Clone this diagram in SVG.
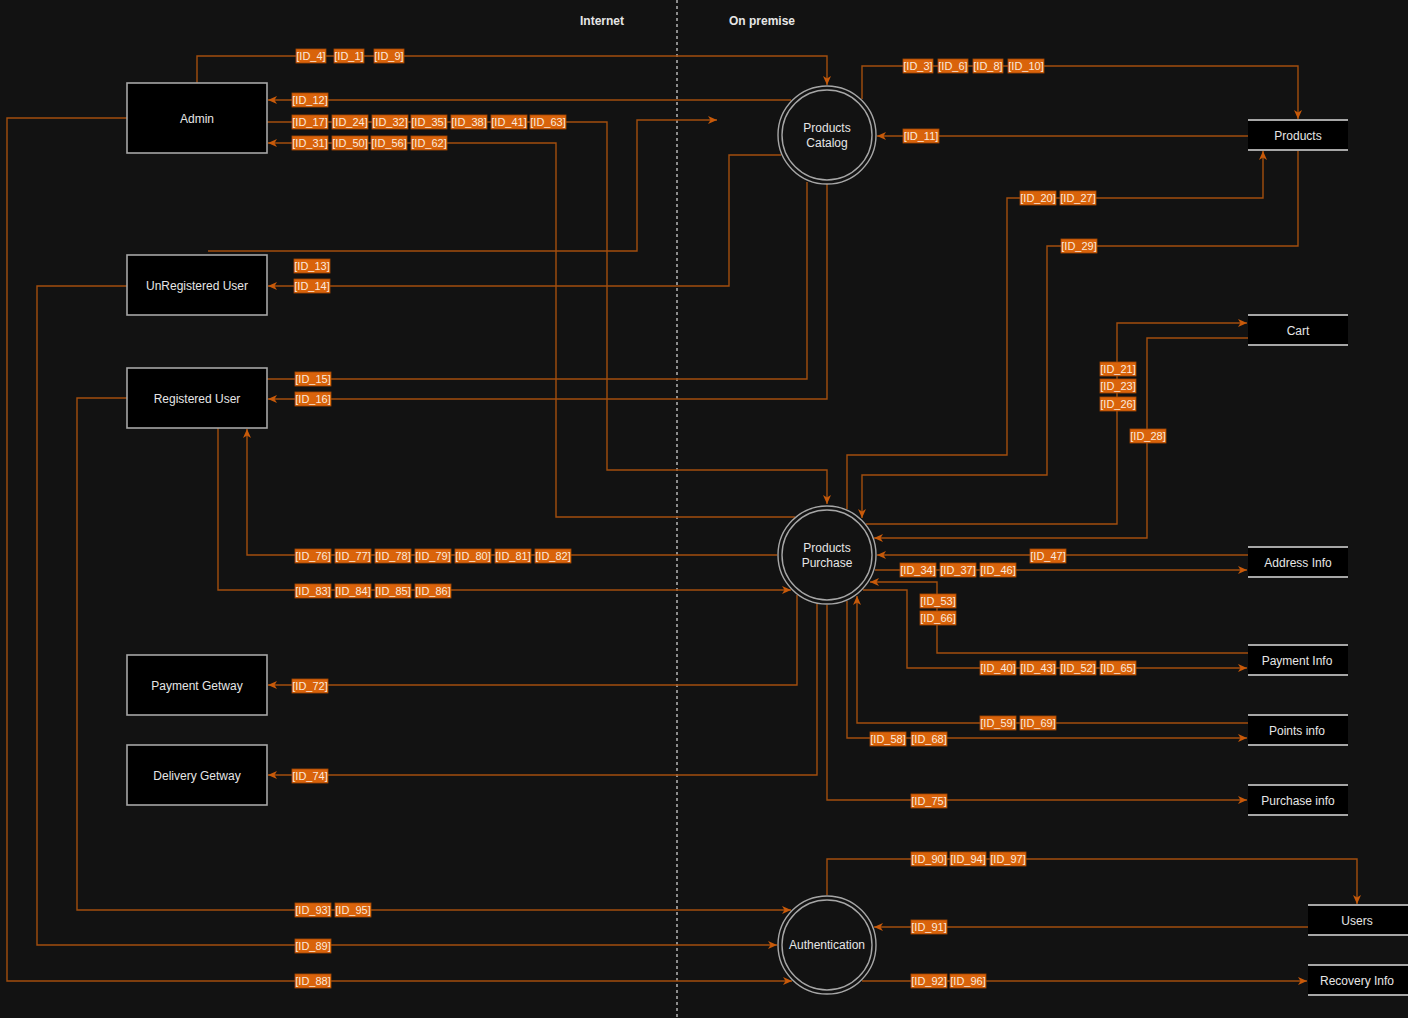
<svg xmlns="http://www.w3.org/2000/svg" width="1408" height="1018" viewBox="0 0 1408 1018">
<style>
.bg{fill:#121212}
.hdr{font-family:"Liberation Sans",Arial,sans-serif;font-size:12px;font-weight:bold;fill:#e6e6e6;text-anchor:middle}
.box{fill:#000;stroke:#a6a6a6;stroke-width:1.6}
.ring{fill:none;stroke:#a6a6a6;stroke-width:1.4}
.ds{fill:#000}
.dsl{stroke:#a6a6a6;stroke-width:2}
.nt{font-family:"Liberation Sans",Arial,sans-serif;font-size:12px;fill:#e6e6e6;text-anchor:middle}
.c{fill:none;stroke:#a24e0e;stroke-width:1.4}
.a{marker-end:url(#arr)}
.lr{fill:#d9630b;stroke:#a84a06;stroke-width:0.8}
.lt{font-family:"Liberation Sans",Arial,sans-serif;font-size:11px;fill:#fbe9dc;text-anchor:middle}
</style>
<defs>
<marker id="arr" markerUnits="userSpaceOnUse" markerWidth="10" markerHeight="10" refX="9" refY="4" orient="auto">
<path d="M0,0 L9,4 L0,8 L2.5,4 Z" fill="#c85a0a"/>
</marker>
</defs>
<rect class="bg" x="0" y="0" width="1408" height="1018"/>
<line x1="677" y1="0" x2="677" y2="1018" stroke="#b4b4b4" stroke-width="1.5" stroke-dasharray="3 3"/>
<text class="hdr" x="602" y="25">Internet</text>
<text class="hdr" x="762" y="25">On premise</text>

<g id="connectors">
<path class="c a" d="M197,83 V56 H827 V85"/>
<path class="c a" d="M791,100 H268"/>
<path class="c a" d="M267,122 H607 V470 H827 V504"/>
<path class="c a" d="M795,517 H556 V143 H268"/>
<path class="c a" d="M208,251 H637 V120 H717"/>
<path class="c a" d="M781,155 H729 V286 H268"/>
<path class="c" d="M267,379 H807 V182"/>
<path class="c a" d="M827,184 V399 H268"/>
<path class="c a" d="M862,99 V66 H1298 V119"/>
<path class="c a" d="M1248,136 H877"/>
<path class="c a" d="M847,509 V455 H1007 V198 H1263 V151"/>
<path class="c a" d="M1298,150 V246 H1047 V475 H862 V518"/>
<path class="c a" d="M866,524 H1117 V323 H1247"/>
<path class="c a" d="M1248,338 H1147 V538 H874"/>
<path class="c a" d="M1248,555 H877"/>
<path class="c a" d="M875,570 H1247"/>
<path class="c a" d="M1248,653 H937 V582 H870"/>
<path class="c a" d="M863,590 H907 V668 H1247"/>
<path class="c a" d="M1248,723 H857 V596"/>
<path class="c a" d="M847,601 V738 H1247"/>
<path class="c a" d="M827,605 V800 H1247"/>
<path class="c a" d="M817,604 V775 H268"/>
<path class="c a" d="M797,595 V685 H268"/>
<path class="c a" d="M777,555 H247 V429"/>
<path class="c a" d="M218,428 V590 H791"/>
<path class="c a" d="M127,398 H77 V910 H791"/>
<path class="c a" d="M127,286 H37 V945 H777"/>
<path class="c a" d="M127,118 H7 V981 H792"/>
<path class="c a" d="M827,895 V859 H1357 V904"/>
<path class="c a" d="M1308,927 H874"/>
<path class="c a" d="M862,981 H1307"/>

<g id="labels">
<rect class="lr" x="296" y="49" width="30" height="14"/><text class="lt" x="311" y="60">[ID_4]</text>
<rect class="lr" x="334" y="49" width="30" height="14"/><text class="lt" x="349" y="60">[ID_1]</text>
<rect class="lr" x="374" y="49" width="30" height="14"/><text class="lt" x="389" y="60">[ID_9]</text>
<rect class="lr" x="292" y="93" width="36" height="14"/><text class="lt" x="310" y="104">[ID_12]</text>
<rect class="lr" x="292" y="115" width="36" height="14"/><text class="lt" x="310" y="126">[ID_17]</text>
<rect class="lr" x="332" y="115" width="36" height="14"/><text class="lt" x="350" y="126">[ID_24]</text>
<rect class="lr" x="372" y="115" width="36" height="14"/><text class="lt" x="390" y="126">[ID_32]</text>
<rect class="lr" x="411" y="115" width="36" height="14"/><text class="lt" x="429" y="126">[ID_35]</text>
<rect class="lr" x="451" y="115" width="36" height="14"/><text class="lt" x="469" y="126">[ID_38]</text>
<rect class="lr" x="491" y="115" width="36" height="14"/><text class="lt" x="509" y="126">[ID_41]</text>
<rect class="lr" x="530" y="115" width="36" height="14"/><text class="lt" x="548" y="126">[ID_63]</text>
<rect class="lr" x="292" y="136" width="36" height="14"/><text class="lt" x="310" y="147">[ID_31]</text>
<rect class="lr" x="332" y="136" width="36" height="14"/><text class="lt" x="350" y="147">[ID_50]</text>
<rect class="lr" x="371" y="136" width="36" height="14"/><text class="lt" x="389" y="147">[ID_56]</text>
<rect class="lr" x="411" y="136" width="36" height="14"/><text class="lt" x="429" y="147">[ID_62]</text>
<rect class="lr" x="294" y="259" width="36" height="14"/><text class="lt" x="312" y="270">[ID_13]</text>
<rect class="lr" x="294" y="279" width="36" height="14"/><text class="lt" x="312" y="290">[ID_14]</text>
<rect class="lr" x="295" y="372" width="36" height="14"/><text class="lt" x="313" y="383">[ID_15]</text>
<rect class="lr" x="295" y="392" width="36" height="14"/><text class="lt" x="313" y="403">[ID_16]</text>
<rect class="lr" x="903" y="59" width="30" height="14"/><text class="lt" x="918" y="70">[ID_3]</text>
<rect class="lr" x="938" y="59" width="30" height="14"/><text class="lt" x="953" y="70">[ID_6]</text>
<rect class="lr" x="973" y="59" width="30" height="14"/><text class="lt" x="988" y="70">[ID_8]</text>
<rect class="lr" x="1008" y="59" width="36" height="14"/><text class="lt" x="1026" y="70">[ID_10]</text>
<rect class="lr" x="903" y="129" width="36" height="14"/><text class="lt" x="921" y="140">[ID_11]</text>
<rect class="lr" x="1020" y="191" width="36" height="14"/><text class="lt" x="1038" y="202">[ID_20]</text>
<rect class="lr" x="1060" y="191" width="36" height="14"/><text class="lt" x="1078" y="202">[ID_27]</text>
<rect class="lr" x="1061" y="239" width="36" height="14"/><text class="lt" x="1079" y="250">[ID_29]</text>
<rect class="lr" x="1100" y="362" width="36" height="14"/><text class="lt" x="1118" y="373">[ID_21]</text>
<rect class="lr" x="1100" y="379" width="36" height="14"/><text class="lt" x="1118" y="390">[ID_23]</text>
<rect class="lr" x="1100" y="397" width="36" height="14"/><text class="lt" x="1118" y="408">[ID_26]</text>
<rect class="lr" x="1130" y="429" width="36" height="14"/><text class="lt" x="1148" y="440">[ID_28]</text>
<rect class="lr" x="1030" y="549" width="36" height="14"/><text class="lt" x="1048" y="560">[ID_47]</text>
<rect class="lr" x="900" y="563" width="36" height="14"/><text class="lt" x="918" y="574">[ID_34]</text>
<rect class="lr" x="940" y="563" width="36" height="14"/><text class="lt" x="958" y="574">[ID_37]</text>
<rect class="lr" x="980" y="563" width="36" height="14"/><text class="lt" x="998" y="574">[ID_46]</text>
<rect class="lr" x="920" y="594" width="36" height="14"/><text class="lt" x="938" y="605">[ID_53]</text>
<rect class="lr" x="920" y="611" width="36" height="14"/><text class="lt" x="938" y="622">[ID_66]</text>
<rect class="lr" x="980" y="661" width="36" height="14"/><text class="lt" x="998" y="672">[ID_40]</text>
<rect class="lr" x="1020" y="661" width="36" height="14"/><text class="lt" x="1038" y="672">[ID_43]</text>
<rect class="lr" x="1060" y="661" width="36" height="14"/><text class="lt" x="1078" y="672">[ID_52]</text>
<rect class="lr" x="1100" y="661" width="36" height="14"/><text class="lt" x="1118" y="672">[ID_65]</text>
<rect class="lr" x="980" y="716" width="36" height="14"/><text class="lt" x="998" y="727">[ID_59]</text>
<rect class="lr" x="1020" y="716" width="36" height="14"/><text class="lt" x="1038" y="727">[ID_69]</text>
<rect class="lr" x="870" y="732" width="36" height="14"/><text class="lt" x="888" y="743">[ID_58]</text>
<rect class="lr" x="911" y="732" width="36" height="14"/><text class="lt" x="929" y="743">[ID_68]</text>
<rect class="lr" x="911" y="794" width="36" height="14"/><text class="lt" x="929" y="805">[ID_75]</text>
<rect class="lr" x="292" y="679" width="36" height="14"/><text class="lt" x="310" y="690">[ID_72]</text>
<rect class="lr" x="292" y="769" width="36" height="14"/><text class="lt" x="310" y="780">[ID_74]</text>
<rect class="lr" x="295" y="549" width="36" height="14"/><text class="lt" x="313" y="560">[ID_76]</text>
<rect class="lr" x="335" y="549" width="36" height="14"/><text class="lt" x="353" y="560">[ID_77]</text>
<rect class="lr" x="375" y="549" width="36" height="14"/><text class="lt" x="393" y="560">[ID_78]</text>
<rect class="lr" x="415" y="549" width="36" height="14"/><text class="lt" x="433" y="560">[ID_79]</text>
<rect class="lr" x="455" y="549" width="36" height="14"/><text class="lt" x="473" y="560">[ID_80]</text>
<rect class="lr" x="495" y="549" width="36" height="14"/><text class="lt" x="513" y="560">[ID_81]</text>
<rect class="lr" x="535" y="549" width="36" height="14"/><text class="lt" x="553" y="560">[ID_82]</text>
<rect class="lr" x="295" y="584" width="36" height="14"/><text class="lt" x="313" y="595">[ID_83]</text>
<rect class="lr" x="335" y="584" width="36" height="14"/><text class="lt" x="353" y="595">[ID_84]</text>
<rect class="lr" x="375" y="584" width="36" height="14"/><text class="lt" x="393" y="595">[ID_85]</text>
<rect class="lr" x="415" y="584" width="36" height="14"/><text class="lt" x="433" y="595">[ID_86]</text>
<rect class="lr" x="295" y="903" width="36" height="14"/><text class="lt" x="313" y="914">[ID_93]</text>
<rect class="lr" x="335" y="903" width="36" height="14"/><text class="lt" x="353" y="914">[ID_95]</text>
<rect class="lr" x="295" y="939" width="36" height="14"/><text class="lt" x="313" y="950">[ID_89]</text>
<rect class="lr" x="295" y="974" width="36" height="14"/><text class="lt" x="313" y="985">[ID_88]</text>
<rect class="lr" x="911" y="852" width="36" height="14"/><text class="lt" x="929" y="863">[ID_90]</text>
<rect class="lr" x="950" y="852" width="36" height="14"/><text class="lt" x="968" y="863">[ID_94]</text>
<rect class="lr" x="990" y="852" width="36" height="14"/><text class="lt" x="1008" y="863">[ID_97]</text>
<rect class="lr" x="911" y="920" width="36" height="14"/><text class="lt" x="929" y="931">[ID_91]</text>
<rect class="lr" x="911" y="974" width="36" height="14"/><text class="lt" x="929" y="985">[ID_92]</text>
<rect class="lr" x="950" y="974" width="36" height="14"/><text class="lt" x="968" y="985">[ID_96]</text>
</g>
</g>

<g id="admin"><rect class="box" x="127" y="83" width="140" height="70"/><text class="nt" x="197" y="123">Admin</text></g>
<g id="unregistered-user"><rect class="box" x="127" y="255" width="140" height="60"/><text class="nt" x="197" y="290">UnRegistered User</text></g>
<g id="registered-user"><rect class="box" x="127" y="368" width="140" height="60"/><text class="nt" x="197" y="403">Registered User</text></g>
<g id="payment-getway"><rect class="box" x="127" y="655" width="140" height="60"/><text class="nt" x="197" y="690">Payment Getway</text></g>
<g id="delivery-getway"><rect class="box" x="127" y="745" width="140" height="60"/><text class="nt" x="197" y="780">Delivery Getway</text></g>

<g id="products-catalog"><circle cx="827" cy="135" r="49" fill="#000" class="ring"/><circle class="ring" cx="827" cy="135" r="45"/><text class="nt" x="827" y="132">Products</text><text class="nt" x="827" y="147">Catalog</text></g>
<g id="products-purchase"><circle cx="827" cy="555" r="49" fill="#000" class="ring"/><circle class="ring" cx="827" cy="555" r="45"/><text class="nt" x="827" y="552">Products</text><text class="nt" x="827" y="567">Purchase</text></g>
<g id="authentication"><circle cx="827" cy="945" r="49" fill="#000" class="ring"/><circle class="ring" cx="827" cy="945" r="45"/><text class="nt" x="827" y="949">Authentication</text></g>

<g id="products"><rect class="ds" x="1248" y="120" width="100" height="30"/><line class="dsl" x1="1248" y1="120" x2="1348" y2="120"/><line class="dsl" x1="1248" y1="150" x2="1348" y2="150"/><text class="nt" x="1298" y="140">Products</text></g>
<g id="cart"><rect class="ds" x="1248" y="315" width="100" height="30"/><line class="dsl" x1="1248" y1="315" x2="1348" y2="315"/><line class="dsl" x1="1248" y1="345" x2="1348" y2="345"/><text class="nt" x="1298" y="335">Cart</text></g>
<g id="address-info"><rect class="ds" x="1248" y="547" width="100" height="30"/><line class="dsl" x1="1248" y1="547" x2="1348" y2="547"/><line class="dsl" x1="1248" y1="577" x2="1348" y2="577"/><text class="nt" x="1298" y="567">Address Info</text></g>
<g id="payment-info"><rect class="ds" x="1248" y="645" width="100" height="30"/><line class="dsl" x1="1248" y1="645" x2="1348" y2="645"/><line class="dsl" x1="1248" y1="675" x2="1348" y2="675"/><text class="nt" x="1297" y="665">Payment Info</text></g>
<g id="points-info"><rect class="ds" x="1248" y="715" width="100" height="30"/><line class="dsl" x1="1248" y1="715" x2="1348" y2="715"/><line class="dsl" x1="1248" y1="745" x2="1348" y2="745"/><text class="nt" x="1297" y="735">Points info</text></g>
<g id="purchase-info"><rect class="ds" x="1248" y="785" width="100" height="30"/><line class="dsl" x1="1248" y1="785" x2="1348" y2="785"/><line class="dsl" x1="1248" y1="815" x2="1348" y2="815"/><text class="nt" x="1298" y="805">Purchase info</text></g>
<g id="users"><rect class="ds" x="1308" y="905" width="100" height="30"/><line class="dsl" x1="1308" y1="905" x2="1408" y2="905"/><line class="dsl" x1="1308" y1="935" x2="1408" y2="935"/><text class="nt" x="1357" y="925">Users</text></g>
<g id="recovery-info"><rect class="ds" x="1308" y="965" width="100" height="30"/><line class="dsl" x1="1308" y1="965" x2="1408" y2="965"/><line class="dsl" x1="1308" y1="995" x2="1408" y2="995"/><text class="nt" x="1357" y="985">Recovery Info</text></g>
</svg>
